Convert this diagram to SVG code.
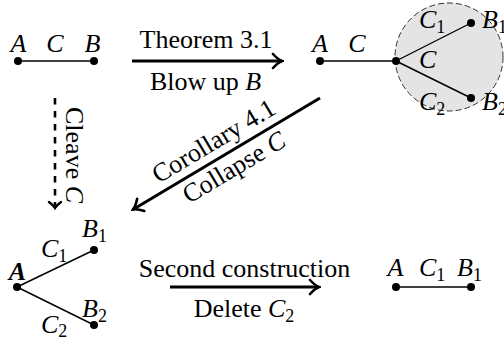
<svg xmlns="http://www.w3.org/2000/svg" width="504" height="341" viewBox="0 0 504 341" font-family="Liberation Serif, DejaVu Serif, serif" font-size="26">
<style>
text{font-family:'Liberation Serif','DejaVu Serif',serif;font-size:26px;fill:#000}
.i{font-style:italic}
.sub{font-size:18px;font-style:normal}
.edge{stroke:#000;stroke-width:1.4;fill:none}
.dot{fill:#000}
.arr{stroke:#000;stroke-width:3;fill:none}
.dash{stroke:#000;stroke-width:2.6;fill:none;stroke-dasharray:6.5,6.5}
</style>
<defs>
<marker id="ah" viewBox="-12 -9 14 18" markerWidth="14" markerHeight="18" refX="0" refY="0" orient="auto" markerUnits="userSpaceOnUse">
<path d="M-9,-7 Q-4,-1.5 0,0 Q-4,1.5 -9,7" fill="none" stroke="#000" stroke-width="2.6" stroke-linecap="round" stroke-dasharray="none"/>
</marker>
<marker id="ahs" viewBox="-12 -9 14 18" markerWidth="14" markerHeight="18" refX="0" refY="0" orient="auto" markerUnits="userSpaceOnUse">
<path d="M-6,-6 Q-2.5,-1.5 0,0 Q-2.5,1.5 -6,6" fill="none" stroke="#000" stroke-width="2.4" stroke-linecap="round" stroke-dasharray="none"/>
</marker>
</defs>

<g id="graph-ACB">
<line class="edge" x1="18" y1="61" x2="94" y2="61"/>
<circle class="dot" cx="18" cy="61" r="4"/>
<circle class="dot" cx="94" cy="61" r="4"/>
<text class="i" x="18.5" y="52" text-anchor="middle">A</text>
<text class="i" x="55" y="52" text-anchor="middle">C</text>
<text class="i" x="92.5" y="52" text-anchor="middle">B</text>
</g>

<g id="graph-blownup">
<circle cx="449" cy="57" r="54" fill="#e4e4e4" stroke="#333" stroke-width="1" stroke-dasharray="6,3"/>
<line class="edge" x1="320" y1="61" x2="396" y2="61"/>
<line class="edge" x1="396" y1="61" x2="471" y2="23"/>
<line class="edge" x1="396" y1="61" x2="471" y2="98"/>
<circle class="dot" cx="320" cy="61" r="4"/>
<circle class="dot" cx="396" cy="61" r="4"/>
<circle class="dot" cx="471" cy="23" r="4"/>
<circle class="dot" cx="471" cy="98" r="4"/>
<text class="i" x="320" y="52" text-anchor="middle">A</text>
<text class="i" x="357" y="52" text-anchor="middle">C</text>
<text class="i" x="419" y="28">C<tspan class="sub" dy="5">1</tspan></text>
<text class="i" x="419" y="68">C</text>
<text class="i" x="419" y="110">C<tspan class="sub" dy="5">2</tspan></text>
<text class="i" x="482" y="28">B<tspan class="sub" dy="5">1</tspan></text>
<text class="i" x="482" y="110">B<tspan class="sub" dy="5">2</tspan></text>
</g>

<g id="graph-cleaved">
<line class="edge" x1="17" y1="287" x2="94" y2="250"/>
<line class="edge" x1="17" y1="287" x2="94" y2="325"/>
<circle class="dot" cx="17" cy="287" r="4"/>
<circle class="dot" cx="94" cy="250" r="4"/>
<circle class="dot" cx="94" cy="325" r="4"/>
<text class="i" x="17.5" y="280" text-anchor="middle" font-weight="bold">A</text>
<text class="i" x="82" y="237">B<tspan class="sub" dy="5">1</tspan></text>
<text class="i" x="41" y="257">C<tspan class="sub" dy="5">1</tspan></text>
<text class="i" x="82" y="317">B<tspan class="sub" dy="5">2</tspan></text>
<text class="i" x="41" y="333">C<tspan class="sub" dy="4">2</tspan></text>
</g>

<g id="graph-AC1B1">
<line class="edge" x1="396" y1="287" x2="471" y2="287"/>
<circle class="dot" cx="396" cy="287" r="4"/>
<circle class="dot" cx="471" cy="287" r="4"/>
<text class="i" x="395.5" y="276" text-anchor="middle">A</text>
<text class="i" x="419" y="276">C<tspan class="sub" dy="5">1</tspan></text>
<text class="i" x="457" y="276">B<tspan class="sub" dy="5">1</tspan></text>
</g>

<g id="connectors">
<g id="arrow-theorem">
<line class="arr" x1="132" y1="61" x2="282" y2="61" marker-end="url(#ah)"/>
<text x="206" y="48" text-anchor="middle">Theorem 3.1</text>
<text x="205.5" y="90" text-anchor="middle">Blow up <tspan class="i">B</tspan></text>
</g>
<g id="arrow-corollary">
<line class="arr" x1="320" y1="98" x2="133" y2="209.5" marker-end="url(#ah)"/>
<g transform="translate(226,154) rotate(-30.8)">
<text x="-4" y="-9" text-anchor="middle">Corollary 4.1</text>
<text x="0" y="24" text-anchor="middle">Collapse <tspan class="i">C</tspan></text>
</g>
</g>
<g id="arrow-cleave">
<line class="dash" x1="55" y1="98" x2="55" y2="208" marker-end="url(#ahs)"/>
<text transform="translate(66,155) rotate(90)" text-anchor="middle">Cleave <tspan class="i">C</tspan></text>
</g>
<g id="arrow-second">
<line class="arr" x1="170" y1="287" x2="319" y2="287" marker-end="url(#ah)"/>
<text x="244.5" y="277" text-anchor="middle">Second construction</text>
<text x="244" y="317" text-anchor="middle">Delete <tspan class="i">C</tspan><tspan class="sub" dy="5">2</tspan></text>
</g>
</g>
</svg>
